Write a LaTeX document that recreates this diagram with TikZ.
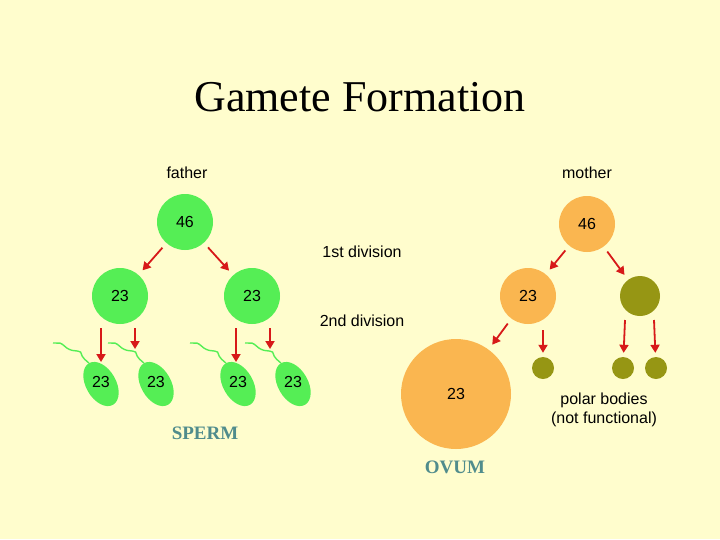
\documentclass[tikz,border=0pt]{standalone}
\usepackage{fontspec}
\setmainfont{Liberation Serif}
\newfontfamily\labelfont{Liberation Sans}
\usetikzlibrary{shapes.geometric,decorations.pathmorphing,arrows.meta}
\definecolor{paper}{RGB}{255,253,205}
\definecolor{cellgreen}{RGB}{85,238,85}
\definecolor{cellorange}{RGB}{250,182,80}
\definecolor{cellolive}{RGB}{150,150,20}
\definecolor{arrowred}{RGB}{215,25,25}
\definecolor{teal}{RGB}{80,140,140}
\begin{document}
\begin{tikzpicture}[x=1pt,y=-1pt,
	cell/.style={
	circle,inner sep=0pt,minimum size=56pt,
	font=\labelfont\fontsize{16}{19}\selectfont
	},male/.style={
	cell,fill=cellgreen
	},female/.style={
	cell,fill=cellorange
	},polar/.style={
	circle,inner sep=0pt,fill=cellolive
	},head/.style={
	ellipse,inner sep=0pt,minimum width=30pt,minimum height=48pt,fill=cellgreen
	},tail/.style={
	draw=cellgreen,line width=1.4pt,
	decorate,decoration={snake,amplitude=1.5pt,segment length=22pt}
	},division/.style={
	-{Triangle[width=9pt,length=8pt]},draw=arrowred,line width=1.8pt
	},skew/.style={
	division,shorten >=6pt,shorten <=6pt
	},plain/.style={
	font=\labelfont\fontsize{16}{19}\selectfont
	},big/.style={
	font=\bfseries\fontsize{19}{23}\selectfont,text=teal
	}
]
\fill[paper] (0,0) rectangle (720,539);
\useasboundingbox (0,0) rectangle (720,539);

\node (title) at (360,97) {\fontsize{44}{52}\selectfont Gamete Formation};

% father side
\node[plain] (father) at (187,173) {father};
\node[male] (f46) at (185,222) {46};
\node[male] (f23a) at (120,296) {23};
\node[male] (f23b) at (252,296) {23};
\draw[skew] (f46) -- (f23a);
\draw[skew] (f46) -- (f23b);

\foreach \n/\x in {s1/101,s2/156,s3/238,s4/293}{
  \node[head,rotate=30] (\n) at (\x,384) {};
  \node[font=\labelfont\fontsize{16}{19}\selectfont] at ([yshift=2pt]\n.center) {23};
  \coordinate (\n t) at (\x-48,343);
  \draw[tail] (\n t) .. controls (\x-35,346) and (\x-25,352) .. (\n.north);
}
\coordinate (a1) at (101,328); \coordinate (b1) at (101,362);
\coordinate (a2) at (135,328); \coordinate (b2) at (135,349);
\coordinate (a3) at (236,328); \coordinate (b3) at (236,362);
\coordinate (a4) at (270,328); \coordinate (b4) at (270,349);
\foreach \i in {1,...,4}{\draw[division] (a\i) -- (b\i);}
\node[big] (sperm) at (205,433) {SPERM};

% middle labels
\node[plain] (div1) at (362,252) {1st division};
\node[plain] (div2) at (362,321) {2nd division};

% mother side
\node[plain] (mother) at (587,173) {mother};
\node[female] (m46) at (587,224) {46};
\node[female] (m23) at (528,296) {23};
\node[polar,minimum size=40pt] (pb1) at (640,296) {};
\draw[skew] (m46) -- (m23);
\draw[skew] (m46) -- (pb1);
\node[female,minimum size=110pt] (ovum) at (456,394) {23};
\node[polar,minimum size=22pt] (pa) at (543,368) {};
\node[polar,minimum size=22pt] (pb) at (623,368) {};
\node[polar,minimum size=22pt] (pc) at (656,368) {};
\draw[skew] (m23) -- (ovum);
\coordinate (c1) at (543,330); \draw[division,shorten >=4pt] (c1) -- (pa);
\coordinate (c2) at (625,320); \draw[division,shorten >=4pt] (c2) -- (pb);
\coordinate (c3) at (654,320); \draw[division,shorten >=4pt] (c3) -- (pc);
\node[plain,align=center] (note) at (604,410) {polar bodies\\(not functional)};
\node[big] (ovumtext) at (455,467) {OVUM};
\end{tikzpicture}
\end{document}
